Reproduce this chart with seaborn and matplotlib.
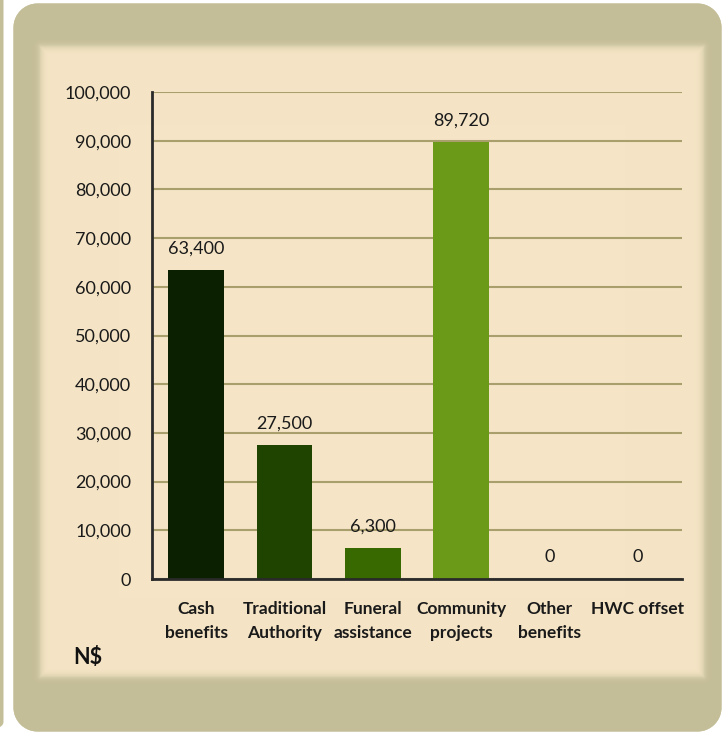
import numpy as np
import pandas as pd
import matplotlib
matplotlib.use("Agg")
import matplotlib.pyplot as plt
import seaborn as sns

# Benefit categories and amounts (N$)
categories = ["Cash\nbenefits", "Traditional\nAuthority", "Funeral\nassistance",
              "Community\nprojects", "Other\nbenefits", "HWC offset"]
amounts = [63400, 27500, 6300, 89720, 0, 0]
bar_colors = ["#0b2000", "#1f4400", "#386800", "#6a9a18", "#8fb03a", "#8fb03a"]
y_ticks = [0, 10000, 20000, 30000, 40000, 50000, 60000, 70000, 80000, 90000, 100000]

df = pd.DataFrame({"category": categories, "amount": amounts})

sns.set_theme(style="white")
plt.rcParams["font.family"] = ["Lato", "DejaVu Sans"]

W, H = 723, 733
fig = plt.figure(figsize=(W / 100, H / 100), dpi=100)

# ---- framed background: olive rounded panel with a soft cream inset ----
yy, xx = np.mgrid[0:H, 0:W].astype(float)
olive = np.array([0xc5, 0xbf, 0x99]) / 255
cream = np.array([0xf5, 0xe5, 0xc6]) / 255
img = np.ones((H, W, 3))

def rounded_mask(x0, y0, x1, y1, r):
    cx = np.clip(xx, x0 + r, x1 - r)
    cy = np.clip(yy, y0 + r, y1 - r)
    d = np.hypot(xx - cx, yy - cy) - r
    return np.clip(0.5 - d, 0, 1)

strip = rounded_mask(-30, -30, 3, 727, 6)
frame = rounded_mask(13, 3, 721, 731, 24)
img = img * (1 - strip[..., None]) + olive * strip[..., None]
img = img * (1 - frame[..., None]) + olive * frame[..., None]

# soft inset: distance to inner rectangle
ix0, iy0, ix1, iy1 = 40, 46, 703, 676
dx = np.maximum(np.maximum(ix0 - xx, xx - ix1), 0)
dy = np.maximum(np.maximum(iy0 - yy, yy - iy1), 0)
dout = np.hypot(dx, dy)
din = np.minimum(np.minimum(xx - ix0, ix1 - xx), np.minimum(yy - iy0, iy1 - yy))
sd = np.where(dout > 0, dout, -np.maximum(din, 0))
a = 1 / (1 + np.exp(sd / 2.2))
shade = np.exp(-np.maximum(sd, 0) / 7) * 0.035 * (sd > 0)
base = olive * (1 - shade[..., None])
inner = base * (1 - a[..., None]) + cream * a[..., None]
img = img * (1 - frame[..., None]) + inner * frame[..., None]
fig.figimage(img, 0, 0, zorder=-10)

# ---- chart ----
ax = fig.add_axes([152 / W, (H - 579) / H, (682 - 152) / W, (579 - 92) / H])
ax.set_zorder(2)
ax.set_facecolor("none")
sns.barplot(data=df, x="category", y="amount", hue="category",
            palette=bar_colors, legend=False, width=0.63,
            saturation=1, linewidth=0, ax=ax, zorder=3)

ax.set_ylim(0, 100000)
ax.set_xlim(-0.5, len(categories) - 0.5)
ax.set_yticks(y_ticks)
ax.set_yticklabels([f"{v:,}" for v in y_ticks], fontsize=13, color="#1a1a1a")
ax.yaxis.grid(True, color="#a89f6c", linewidth=1.5, zorder=0)
ax.set_axisbelow(True)
ax.tick_params(axis="y", length=0, pad=15)
ax.tick_params(axis="x", length=0, pad=16)
for lbl in ax.get_xticklabels():
    lbl.set_fontweight("bold")
    lbl.set_fontsize(12.5)
    lbl.set_color("#1a1a1a")
    lbl.set_linespacing(1.6)
ax.set_xlabel("")
ax.set_ylabel("")

for s in ["top", "right"]:
    ax.spines[s].set_visible(False)
for s in ["left", "bottom"]:
    ax.spines[s].set_color("#2a2a2a")
    ax.spines[s].set_linewidth(2)
    ax.spines[s].set_zorder(5)

for i, v in enumerate(amounts):
    ax.annotate(f"{v:,}", xy=(i, v), xytext=(0, 10), textcoords="offset points",
                ha="center", va="bottom", fontsize=13, color="#1a1a1a")

fig.text(73 / W, (H - 657) / H, "N$", fontsize=15.5, fontweight="bold",
         color="#111111", ha="left", va="center")

fig.savefig("out.png", dpi=100)
